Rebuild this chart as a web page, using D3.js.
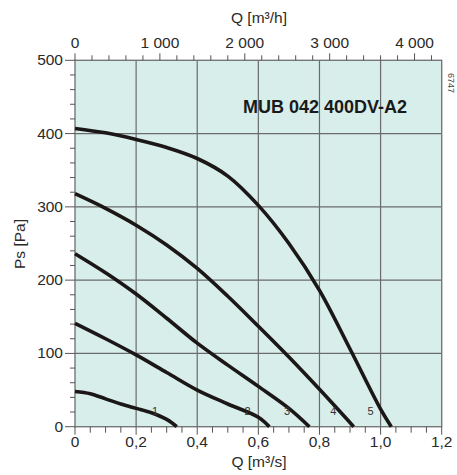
<!DOCTYPE html>
<html>
<head>
<meta charset="utf-8">
<script src="https://cdn.jsdelivr.net/npm/d3@7"></script>
<style>
  html, body { margin: 0; padding: 0; background: #ffffff; }
  svg { display: block; }
  text { font-family: "Liberation Sans", Arial, sans-serif; }
</style>
</head>
<body>
<svg id="chart" width="457" height="475"></svg>
<script>
// ---- data ----
const curveNames = ["1", "2", "3", "4", "5"];
const curve1 = [[0,48],[0.05,45],[0.1,38],[0.15,31],[0.2,25],[0.25,19],[0.3,10],[0.333,0]];
const curve2 = [[0,141],[0.1,120],[0.2,98],[0.3,74],[0.4,50],[0.5,31],[0.6,13],[0.636,0]];
const curve3 = [[0,236],[0.1,210],[0.2,181],[0.3,148],[0.4,114],[0.5,84],[0.6,55],[0.7,25],[0.767,0]];
const curve4 = [[0,318],[0.1,298],[0.2,275],[0.3,248],[0.4,216],[0.5,178],[0.6,137],[0.7,95],[0.8,51],[0.912,0]];
const curve5 = [[0,407],[0.1,401],[0.2,392],[0.3,381],[0.4,366],[0.5,342],[0.6,302],[0.7,250],[0.8,186],[0.9,106],[1.0,24],[1.035,0]];
const labelPos = [[0.262,16],[0.565,16],[0.694,16],[0.845,16],[0.967,16]];
const xTicks = [0, 0.2, 0.4, 0.6, 0.8, 1.0, 1.2];
const yTicks = [0, 100, 200, 300, 400, 500];
const topTicks = [0, 1000, 2000, 3000, 4000];
const title = "MUB 042 400DV-A2";
const code = "6747";

// ---- layout ----
const svg = d3.select("#chart");
const L = 75, R = 441.7, T = 60.3, B = 426.7;
const x = d3.scaleLinear().domain([0, 1.2]).range([L, R]);
const xTop = d3.scaleLinear().domain([0, 1.2 * 3600]).range([L, R]);
const y = d3.scaleLinear().domain([0, 500]).range([B, T]);

const gridColor = "#6b6b6b";
const tickColor = "#555";
const textColor = "#2a2a2a";

svg.append("rect").attr("x", L).attr("y", T).attr("width", R - L).attr("height", B - T)
  .attr("fill", "#d8eeeb");

// grid
svg.append("g").selectAll("line").data(xTicks.slice(1, -1)).join("line")
  .attr("x1", d => x(d)).attr("x2", d => x(d)).attr("y1", T).attr("y2", B)
  .attr("stroke", gridColor).attr("stroke-width", 1.2);
svg.append("g").selectAll("line").data(yTicks.slice(1, -1)).join("line")
  .attr("y1", d => y(d)).attr("y2", d => y(d)).attr("x1", L).attr("x2", R)
  .attr("stroke", gridColor).attr("stroke-width", 1.2);

// border
svg.append("rect").attr("x", L).attr("y", T).attr("width", R - L).attr("height", B - T)
  .attr("fill", "none").attr("stroke", "#777").attr("stroke-width", 1.4);

// bottom axis
const fmtComma = d => d === 0 ? "0" : d3.format(".1f")(d).replace(".", ",");
const bottomMinor = d3.range(0, 1.2001, 0.05);
svg.append("g").selectAll("line").data(bottomMinor).join("line")
  .attr("x1", d => x(d)).attr("x2", d => x(d)).attr("y1", B)
  .attr("y2", (d, i) => B + (i % 4 === 0 ? 8 : 6))
  .attr("stroke", tickColor).attr("stroke-width", 1);
svg.append("g").selectAll("text").data(xTicks).join("text")
  .attr("x", d => x(d)).attr("y", 447).attr("text-anchor", "middle")
  .attr("font-size", 15.5).attr("fill", textColor).text(fmtComma);
svg.append("text").attr("x", 259).attr("y", 467).attr("text-anchor", "middle")
  .attr("font-size", 15.5).attr("fill", textColor).text("Q [m³/s]");

// top axis
const topMinor = d3.range(0, 4201, 200);
svg.append("g").selectAll("line").data(topMinor).join("line")
  .attr("x1", d => xTop(d)).attr("x2", d => xTop(d)).attr("y1", T)
  .attr("y2", d => T - (d % 1000 === 0 ? 7 : 5))
  .attr("stroke", tickColor).attr("stroke-width", 1);
const fmtThousand = d => d3.format(",")(d).replace(/,/g, " ");
svg.append("g").selectAll("text").data(topTicks).join("text")
  .attr("x", d => xTop(d)).attr("y", 48).attr("text-anchor", "middle")
  .attr("font-size", 15.5).attr("fill", textColor).text(fmtThousand);
svg.append("text").attr("x", 259).attr("y", 23).attr("text-anchor", "middle")
  .attr("font-size", 15.5).attr("fill", textColor).text("Q [m³/h]");

// left axis
const leftMinor = d3.range(0, 501, 20);
svg.append("g").selectAll("line").data(leftMinor).join("line")
  .attr("y1", d => y(d)).attr("y2", d => y(d)).attr("x1", L)
  .attr("x2", d => L - (d % 100 === 0 ? 10 : 5))
  .attr("stroke", tickColor).attr("stroke-width", 1);
svg.append("g").selectAll("text").data(yTicks).join("text")
  .attr("x", 63).attr("y", d => y(d) + 5).attr("text-anchor", "end")
  .attr("font-size", 15.5).attr("fill", textColor).text(d => d);
svg.append("text").attr("transform", "translate(25,244) rotate(-90)")
  .attr("text-anchor", "middle").attr("font-size", 15.5).attr("fill", textColor).text("Ps [Pa]");

// curves
const line = d3.line().x(d => x(d[0])).y(d => y(d[1])).curve(d3.curveCatmullRom.alpha(0.5));
const curves = [curve1, curve2, curve3, curve4, curve5];
svg.append("g").selectAll("path").data(curves).join("path")
  .attr("d", line).attr("fill", "none").attr("stroke", "#1c1717")
  .attr("stroke-width", 3.6).attr("stroke-linecap", "butt");

// curve labels
svg.append("g").selectAll("text").data(curveNames).join("text")
  .attr("x", (d, i) => x(labelPos[i][0])).attr("y", (d, i) => y(labelPos[i][1]))
  .attr("text-anchor", "middle").attr("font-size", 11).attr("fill", "#333").text(d => d);

// title
svg.append("text").attr("x", 243).attr("y", 113).attr("font-size", 18)
  .attr("font-weight", "bold").attr("fill", "#1a1a1a").text(title);

// code
svg.append("text").attr("transform", "translate(448,73) rotate(90)")
  .attr("font-size", 9).attr("fill", "#444").text(code);
</script>
</body>
</html>
